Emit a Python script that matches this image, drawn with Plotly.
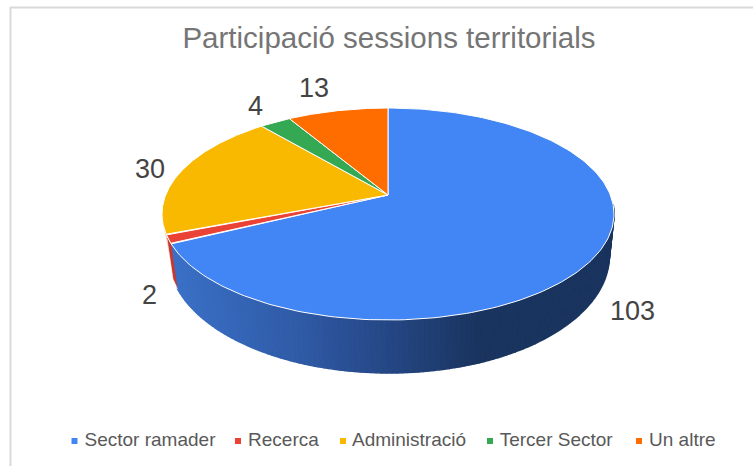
import numpy as np
import plotly.graph_objects as go

categories = ["Sector ramader", "Recerca", "Administració", "Tercer Sector", "Un altre"]
values = [103, 2, 30, 4, 13]
title_text = "Participació sessions territorials"

colors = ["#4285F4", "#EA4335", "#F8B900", "#34A853", "#FF6D00"]
wall_side = {1: "#C8372D", 2: "#E3B04A"}
label_xy = [(632, 311), (149, 295), (150, 169), (255, 106), (314, 88)]
legend_x = [74.5, 238, 343, 490, 639]
LEGEND_Y = 441

CX, CY, RX, RY, APEX_Y = 388, 214, 226, 106, 195
W = (CY - APEX_Y) / RY
A = RX * np.sqrt(1 - W ** 2)


def top(theta):
    s, c = np.sin(theta), np.cos(theta)
    d = 1 + W * c
    return CX + A * s / d, CY - (RY * c + (CY - APEX_Y)) / d


def bottom(theta):
    x, y = top(theta)
    return CX + 1 + (x - CX) * 0.975, y + 53 + (y - 320) * 0.104


def lerp_color(x):
    xs = [177, 300, 400, 480, 620]
    r = np.interp(x, xs, [58, 47, 35, 25, 25])
    g = np.interp(x, xs, [112, 90, 68, 52, 52])
    b = np.interp(x, xs, [198, 166, 128, 94, 94])
    return f"rgb({r:.0f},{g:.0f},{b:.0f})"


total = sum(values)
edges = np.concatenate([[0], np.cumsum(values)]) / total * 2 * np.pi
fig = go.Figure()

# side wall of the first slice, drawn as a horizontal gradient
wall_start = np.radians(95)
steps = np.linspace(wall_start, edges[1], 130)
for a, b in zip(steps[:-1], steps[1:]):
    tx = np.array([top(a)[0], top(b)[0], bottom(b)[0], bottom(a)[0]])
    ty = np.array([top(a)[1], top(b)[1], bottom(b)[1], bottom(a)[1]])
    col = lerp_color(tx.mean())
    fig.add_trace(go.Scatter(x=tx, y=ty, fill="toself", fillcolor=col, mode="lines",
                             line=dict(color=col, width=1.5), showlegend=False, hoverinfo="skip"))

# thin walls of the next slices
for i, end in ((2, np.radians(256)), (1, edges[2])):
    t = np.linspace(edges[i], end, 12)
    bx, by = bottom(t)
    if i == 2:
        by = by - 8
    tx, ty = top(t)
    fig.add_trace(go.Scatter(x=np.r_[tx, bx[::-1]], y=np.r_[ty, by[::-1]], fill="toself",
                             fillcolor=wall_side[i], mode="lines", line=dict(color="white", width=0.6),
                             showlegend=False, hoverinfo="skip"))

# top faces
for i, cat in enumerate(categories):
    t = np.linspace(edges[i], edges[i + 1], 200)
    x, y = top(t)
    fig.add_trace(go.Scatter(x=np.r_[CX, x, CX], y=np.r_[APEX_Y, y, APEX_Y], fill="toself",
                             fillcolor=colors[i], mode="lines", line=dict(color="white", width=1),
                             showlegend=False, hovertemplate=f"{cat}: {values[i]}<extra></extra>"))

# legend row
for cat, col, lx in zip(categories, colors, legend_x):
    fig.add_trace(go.Scatter(x=[lx], y=[LEGEND_Y], mode="markers+text", text=[" " + cat],
                             textposition="middle right", showlegend=False, hoverinfo="skip",
                             textfont=dict(size=19, color="#595959", family="Liberation Sans"),
                             marker=dict(symbol="square", size=6, color=col)))

annotations = [dict(x=p[0], y=p[1], xref="x", yref="y", text=str(v), showarrow=False,
                    font=dict(size=27, color="#444444", family="Liberation Sans"))
               for v, p in zip(values, label_xy)]

fig.update_layout(
    width=753, height=466, margin=dict(l=0, r=0, t=0, b=0),
    paper_bgcolor="white", plot_bgcolor="white", showlegend=False,
    xaxis=dict(range=[0, 753], visible=False, fixedrange=True),
    yaxis=dict(range=[466, 0], visible=False, fixedrange=True),
    title=dict(text=title_text, x=389 / 753, xanchor="center", y=1 - 38 / 466, yanchor="middle",
               font=dict(size=29.5, color="#757575", family="Liberation Sans")),
    annotations=annotations,
    shapes=[dict(type="line", xref="x", yref="y", x0=10.5, x1=10.5, y0=7, y1=466,
                 line=dict(color="#D9D9D9", width=2)),
            dict(type="line", xref="x", yref="y", x0=10, x1=753, y0=7.5, y1=7.5,
                 line=dict(color="#D9D9D9", width=2))],
)
fig.write_html("out.html", config={"displayModeBar": False},
               post_script="document.body.style.margin='0';document.body.style.overflow='hidden';")
